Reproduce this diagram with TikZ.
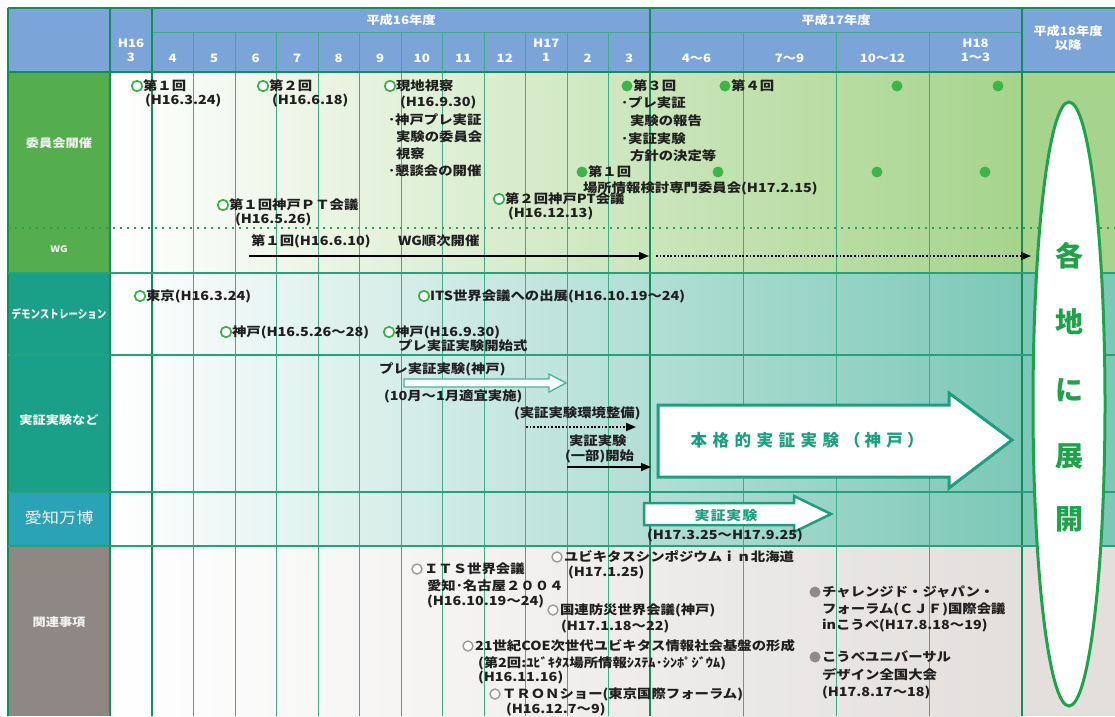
\documentclass[tikz,border=0pt]{standalone}
\usepackage{fontspec}
\usepackage{graphicx}
\usetikzlibrary{arrows.meta}
\newfontfamily\jp{Noto Sans CJK JP}[FakeStretch=1.15]
\newfontfamily\jpn{Noto Sans CJK JP}
\definecolor{hdr}{HTML}{7BA5D9}
\definecolor{gridc}{HTML}{3FAC86}
\definecolor{gridd}{HTML}{128F58}
\definecolor{rowl}{HTML}{25A17C}
\definecolor{lgreen}{HTML}{55AE4E}
\definecolor{lteal}{HTML}{1AA088}
\definecolor{laichi}{HTML}{2AA3B6}
\definecolor{lgray}{HTML}{8E8783}
\definecolor{gmid}{HTML}{D3EBC4}
\definecolor{gright}{HTML}{A6D48C}
\definecolor{tmid}{HTML}{C0E5DC}
\definecolor{tright}{HTML}{7CC8B7}
\definecolor{grayr}{HTML}{E2DFDD}
\definecolor{ellc}{HTML}{1FA24A}
\definecolor{arrc}{HTML}{1C9E80}
\definecolor{cgreen}{HTML}{3DAF4B}
\definecolor{cgreen2}{HTML}{3DB54A}
\definecolor{cgray}{HTML}{9C9A99}
\definecolor{cgray2}{HTML}{8F8A88}
\definecolor{dotc}{HTML}{2E9E55}
\tikzset{
  t/.style={anchor=west, inner sep=0pt, outer sep=0pt, font=\jp\bfseries\fontsize{12.5}{14}\selectfont, text=black!88},
  hd/.style={inner sep=0pt, font=\jp\bfseries\fontsize{11.5}{14}\selectfont, text=white, align=center},
  lab/.style={inner sep=0pt, font=\jp\bfseries\fontsize{11.5}{13}\selectfont, text=white!95!black},
  oc/.style={circle, draw=cgreen, fill=white, line width=1.7pt, minimum size=10.5pt, inner sep=0pt},
  fc/.style={circle, fill=cgreen2, minimum size=11pt, inner sep=0pt},
  og/.style={circle, draw=cgray, fill=white, line width=1.4pt, minimum size=10pt, inner sep=0pt},
  fg/.style={circle, fill=cgray2, minimum size=11pt, inner sep=0pt},
  ellt/.style={inner sep=0pt, font=\jpn\bfseries\fontsize{28}{28}\selectfont, text=ellc},
  blk/.style={line width=1.6pt, -{Triangle[length=10pt,width=8pt]}},
  dotarr/.style={line width=1.8pt, dash pattern=on 1.8pt off 1.8pt, -{Triangle[length=10pt,width=8pt]}},
  barrow/.style={draw=arrc, line width=3pt, fill=white, line join=miter},
}
\begin{document}
\begin{tikzpicture}[x=1pt,y=-1pt]
\useasboundingbox (0,0) rectangle (1115,716);
\fill[white] (0,0) rectangle (1115,716);
% header
\fill[hdr] (8,8) rectangle (1115,72);
% label cells
\fill[lgreen] (8,72) rectangle (110,273);
\fill[lteal] (8,273) rectangle (110,492);
\fill[laichi] (8,492) rectangle (110,546);
\fill[lgray] (8,546) rectangle (110,716);
% body shading
\shade[left color=white, middle color=gmid, right color=gright] (110,72) rectangle (1022,273);
\shade[left color=white, middle color=tmid, right color=tright] (110,273) rectangle (1022,546);
\shade[left color=white, right color=grayr] (110,546) rectangle (1022,716);
\fill[gright] (1022,72) rectangle (1115,273);
\fill[tright] (1022,273) rectangle (1115,546);
\fill[grayr] (1022,546) rectangle (1115,716);
% grid
\foreach \x in {193.5,235,276.5,318,359.5,401,442.5,484,525.5,567,608.5,743,836,929}
  \draw[gridc, line width=0.9pt] (\x,32) -- (\x,716);
\draw[gridc, line width=1pt] (152,32) -- (1022,32);
\foreach \x in {110,152,650,1022}
  \draw[gridd, line width=1.8pt] (\x,8) -- (\x,716);
\draw[gridd, line width=1.5pt] (8,8) -- (1115,8);
\draw[gridd, line width=1.5pt] (8,8) -- (8,716);
\draw[gridd, line width=2pt] (8,72) -- (1115,72);
\foreach \y in {273,355,492,546}
  \draw[rowl, line width=1.5pt] (8,\y) -- (1115,\y);
\draw[dotc, line width=1.5pt, dash pattern=on 2pt off 5pt] (8,228) -- (1115,228);
% header texts
\node[hd] (hA) at (401,20) {平成16年度};
\node[hd] (hB) at (836,20) {平成17年度};
\node[hd] (hC) at (1068,38) {平成18年度\\以降};
\node[hd] (m3) at (131,50) {H16\\3};
\node[hd] (m4) at (172.75,58) {4};
\node[hd] (m5) at (214.25,58) {5};
\node[hd] (m6) at (255.75,58) {6};
\node[hd] (m7) at (297.25,58) {7};
\node[hd] (m8) at (338.75,58) {8};
\node[hd] (m9) at (380.25,58) {9};
\node[hd] (m10) at (421.75,58) {10};
\node[hd] (m11) at (463.25,58) {11};
\node[hd] (m12) at (504.75,58) {12};
\node[hd] (m1) at (546.25,50) {H17\\1};
\node[hd] (m2) at (587.75,58) {2};
\node[hd] (m3b) at (629.25,58) {3};
\node[hd] (q1) at (696.5,58) {4〜6};
\node[hd] (q2) at (789.5,58) {7〜9};
\node[hd] (q3) at (882.5,58) {10〜12};
\node[hd] (q4) at (975.5,50) {H18\\1〜3};
% row labels
\node[lab] (L1) at (59,143) {委員会開催};
\node[lab, font=\jp\bfseries\fontsize{9}{10}\selectfont] (L2) at (59,249) {WG};
\node[lab] (L3) at (59,314) {\scalebox{0.72}[1]{デモンストレーション}};
\node[lab] (L4) at (59,420) {実証実験など};
\node[lab, font=\jp\fontsize{15}{16}\selectfont] (L5) at (59,518) {愛知万博};
\node[lab] (L6) at (59,622) {関連事項};
% committee row
\node[oc] (c1) at (137,86) {};
\node[t] (t1a) at (143,86) {第１回};
\node[t] (t1b) at (145,101) {(H16.3.24)};
\node[oc] (c2) at (263,86) {};
\node[t] (t2a) at (269,86) {第２回};
\node[t] (t2b) at (272,101) {(H16.6.18)};
\node[oc] (c3) at (390,86) {};
\node[t] (t3a) at (396,86) {現地視察};
\node[t] (t3b) at (400,103) {(H16.9.30)};
\node[t] (t3c) at (388,120) {･神戸プレ実証};
\node[t] (t3d) at (396,137) {実験の委員会};
\node[t] (t3e) at (396,154) {視察};
\node[t] (t3f) at (388,171) {･懇談会の開催};
\node[oc] (c4) at (223,205) {};
\node[t] (t4a) at (229,205) {第１回神戸ＰＴ会議};
\node[t] (t4b) at (235,220) {(H16.5.26)};
\node[oc] (c5) at (499,199) {};
\node[t] (t5a) at (505,199) {第２回神戸PT会議};
\node[t] (t5b) at (508,214) {(H16.12.13)};
\node[fc] (c6) at (627,86) {};
\node[t] (t6a) at (633,86) {第３回};
\node[t] (t6b) at (621,103) {･プレ実証};
\node[t] (t6c) at (630,121) {実験の報告};
\node[t] (t6d) at (621,139) {･実証実験};
\node[t] (t6e) at (630,156) {方針の決定等};
\node[fc] (c7) at (725,86) {};
\node[t] (t7) at (731,86) {第４回};
\node[fc] (c8) at (897,86) {};
\node[fc] (c9) at (998,86) {};
\node[fc] (c10) at (582,172) {};
\node[t] (t10a) at (588,172) {第１回};
\node[t] (t10b) at (583,188) {場所情報検討専門委員会(H17.2.15)};
\node[fc] (c11) at (718,172) {};
\node[fc] (c12) at (877,172) {};
\node[fc] (c13) at (985,172) {};
% WG row
\node[t] (wg1) at (251,241) {第１回(H16.6.10)};
\node[t] (wg2) at (398,241) {WG順次開催};
\coordinate (wgA) at (249,256);
\coordinate (wgB) at (649,256);
\coordinate (wgC) at (656,256);
\coordinate (wgD) at (1031,256);
\draw[blk] (wgA) -- (wgB);
\draw[dotarr] (wgC) -- (wgD);
% demonstration row
\node[oc] (d1c) at (140,296) {};
\node[t] (d1) at (146,296) {東京(H16.3.24)};
\node[oc] (d2c) at (424,296) {};
\node[t] (d2) at (430,296) {ITS世界会議への出展(H16.10.19〜24)};
\node[oc] (d3c) at (226,332) {};
\node[t] (d3) at (232,332) {神戸(H16.5.26〜28)};
\node[oc] (d4c) at (389,332) {};
\node[t] (d4a) at (395,332) {神戸(H16.9.30)};
\node[t] (d4b) at (398,346) {プレ実証実験開始式};
% experiments row
\node[t] (j1) at (379,369) {プレ実証実験(神戸)};
\draw[draw=arrc!80, line width=1.3pt, fill=white] (404,379) -- (549,379) -- (549,374) -- (566,383) -- (549,392) -- (549,387) -- (404,387) -- cycle;
\node[t] (j2) at (384,396) {(10月〜1月適宜実施)};
\node[t] (j3) at (514,413) {(実証実験環境整備)};
\coordinate (ja) at (526,427);
\coordinate (jb) at (636,427);
\draw[dotarr] (ja) -- (jb);
\node[t] (j4) at (569,441) {実証実験};
\node[t] (j5) at (565,456) {(一部)開始};
\coordinate (jc) at (567,467);
\coordinate (jd) at (651,467);
\draw[blk] (jc) -- (jd);
\draw[barrow] (658,405) -- (949,405) -- (949,393) -- (1012,440) -- (949,488) -- (949,477) -- (658,477) -- cycle;
\node[inner sep=0pt, font=\jpn\bfseries\fontsize{16.5}{18}\selectfont, text=arrc] (j6) at (807,440)
  {本\kern5.5pt 格\kern5.5pt 的\kern5.5pt 実\kern5.5pt 証\kern5.5pt 実\kern5.5pt 験\kern5pt （\kern4pt 神\kern5.5pt 戸\kern4pt ）};
% Aichi row
\draw[barrow, line width=2.5pt] (644,503) -- (794,503) -- (794,496) -- (831,514) -- (794,532) -- (794,525) -- (644,525) -- cycle;
\node[inner sep=0pt, font=\jp\bfseries\fontsize{13}{14}\selectfont, text=arrc] (a1) at (726,516) {実\kern1pt 証\kern1pt 実\kern1pt 験};
\node[t] (a2) at (647,536) {(H17.3.25〜H17.9.25)};
% related row
\node[og] (k1c) at (417,569) {};
\node[t] (k1a) at (424,569) {ＩＴＳ世界会議};
\node[t] (k1b) at (427,586) {愛知･名古屋２００４};
\node[t] (k1d) at (427,602) {(H16.10.19〜24)};
\node[og] (k2c) at (557,557) {};
\node[t] (k2a) at (564,557) {ユビキタスシンポジウムｉｎ北海道};
\node[t] (k2b) at (568,573) {(H17.1.25)};
\node[og] (k3c) at (553,610) {};
\node[t] (k3a) at (560,610) {国連防災世界会議(神戸)};
\node[t] (k3b) at (561,627) {(H17.1.18〜22)};
\node[og] (k4c) at (468,646) {};
\node[t] (k4a) at (475,646) {21世紀COE次世代ユビキタス情報社会基盤の形成};
\node[t] (k4b) at (478,663) {(第2回:ﾕﾋﾞｷﾀｽ場所情報ｼｽﾃﾑ･ｼﾝﾎﾟｼﾞｳﾑ)};
\node[t] (k4d) at (478,678) {(H16.11.16)};
\node[og] (k5c) at (495,694) {};
\node[t] (k5a) at (502,694) {ＴＲＯＮショー(東京国際フォーラム)};
\node[t] (k5b) at (506,710) {(H16.12.7〜9)};
\node[fg] (k6c) at (815,592) {};
\node[t] (k6a) at (822,592) {チャレンジド・ジャパン・};
\node[t] (k6b) at (822,609) {フォーラム(ＣＪＦ)国際会議};
\node[t] (k6d) at (822,626) {inこうべ(H17.8.18〜19)};
\node[fg] (k7c) at (815,657) {};
\node[t] (k7a) at (822,657) {こうべユニバーサル};
\node[t] (k7b) at (822,675) {デザイン全国大会};
\node[t] (k7d) at (822,693) {(H17.8.17〜18)};
% ellipse
\draw[ellc, line width=3pt, fill=white] (1069,404) ellipse [x radius=36, y radius=302];
\node[ellt] (e1) at (1069,256) {各};
\node[ellt] (e2) at (1069,322) {地};
\node[ellt] (e3) at (1069,390) {に};
\node[ellt] (e4) at (1069,456) {展};
\node[ellt] (e5) at (1069,519) {開};
\end{tikzpicture}
\end{document}
